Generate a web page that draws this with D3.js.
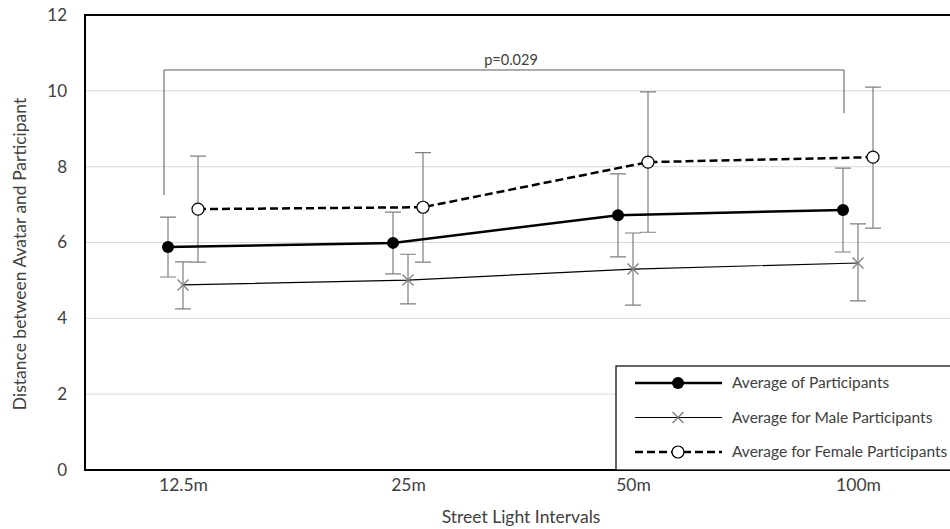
<!DOCTYPE html>
<meta charset="utf-8" />
<script src="https://d3js.org/d3.v7.min.js"></script>
<style>
  body { margin: 0; background: #fff; }
  text { font-family: Lato, "Open Sans", sans-serif; fill: #404040; }
</style>
<div id="chart"></div>
<script>
  // data
  var intervals = ["12.5m", "25m", "50m", "100m"];
  var yTicks = [0, 2, 4, 6, 8, 10, 12];

  var avgMean = [5.88, 5.99, 6.72, 6.86];
  var avgHigh = [6.67, 6.80, 7.81, 7.96];
  var avgLow = [5.09, 5.17, 5.62, 5.75];

  var maleMean = [4.88, 5.01, 5.30, 5.46];
  var maleHigh = [5.49, 5.69, 6.25, 6.49];
  var maleLow = [4.25, 4.38, 4.35, 4.46];

  var femaleMean = [6.88, 6.93, 8.12, 8.25];
  var femaleHigh = [8.28, 8.37, 9.97, 10.10];
  var femaleLow = [5.48, 5.48, 6.27, 6.38];

  var legendLabels = ["Average of Participants", "Average for Male Participants", "Average for Female Participants"];

  // significance bracket between 12.5m and 100m
  var bracketY = 10.55, bracketLeftEnd = 7.25, bracketRightEnd = 9.41, pLabel = "p=0.029";

  var W = 950, H = 529;
  var margin = { top: 15, right: -2, bottom: 59, left: 85 };
  var width = W - margin.left - margin.right,
      height = H - margin.top - margin.bottom;

  var svg = d3.select("#chart").append("svg")
    .attr("width", W).attr("height", H);
  var g = svg.append("g")
    .attr("transform", "translate(" + margin.left + "," + margin.top + ")");

  var x = d3.scalePoint().domain(intervals).range([98, 773]);
  var y = d3.scaleLinear().domain([0, 12]).range([height, 0]);

  // gridlines
  g.append("g").selectAll("line").data(yTicks.filter(function (d) { return d > 0 && d < 12; }))
    .enter().append("line")
    .attr("x1", 0).attr("x2", width)
    .attr("y1", function (d) { return y(d); }).attr("y2", function (d) { return y(d); })
    .attr("stroke", "#d9d9d9").attr("stroke-width", 1);

  // y axis labels
  var yAxis = g.append("g").call(d3.axisLeft(y).tickValues(yTicks).tickSize(0).tickPadding(18));
  yAxis.select(".domain").remove();
  yAxis.selectAll("text").style("font-size", "17px").attr("fill", "#404040");

  // x axis labels
  var xAxis = g.append("g").attr("transform", "translate(0," + height + ")")
    .call(d3.axisBottom(x).tickSize(0).tickPadding(9));
  xAxis.select(".domain").remove();
  xAxis.selectAll("text").style("font-size", "17.5px").attr("fill", "#404040");

  // frame
  g.append("rect").attr("x", 0).attr("y", 0).attr("width", width).attr("height", height)
    .attr("fill", "none").attr("stroke", "#000").attr("stroke-width", 2);

  // axis titles
  svg.append("text").attr("x", 521).attr("y", 523)
    .attr("text-anchor", "middle").style("font-size", "17.5px").text("Street Light Intervals");
  svg.append("text").attr("transform", "translate(26,254) rotate(-90)")
    .attr("text-anchor", "middle").style("font-size", "17.5px")
    .text("Distance between Avatar and Participant");

  // significance bracket
  var bx1 = x(intervals[0]) - 19, bx2 = x(intervals[3]) - 14;
  g.append("path")
    .attr("d", "M" + bx1 + "," + y(bracketLeftEnd) + "V" + y(bracketY) + "H" + bx2 + "V" + y(bracketRightEnd))
    .attr("fill", "none").attr("stroke", "#595959").attr("stroke-width", 1);
  g.append("text").attr("x", (bx1 + bx2) / 2 + 7).attr("y", y(bracketY) - 5)
    .attr("text-anchor", "middle").style("font-size", "14.5px").text(pLabel);

  var series = [
    { mean: avgMean, high: avgHigh, low: avgLow, dx: -15, width: 2.5, dash: null, marker: "filled" },
    { mean: maleMean, high: maleHigh, low: maleLow, dx: 0, width: 1.2, dash: null, marker: "cross" },
    { mean: femaleMean, high: femaleHigh, low: femaleLow, dx: 15, width: 2.5, dash: "8,4", marker: "open" }
  ];

  function drawMarker(sel, type, cx, cy) {
    if (type === "filled") {
      sel.append("circle").attr("cx", cx).attr("cy", cy).attr("r", 6).attr("fill", "#000");
    } else if (type === "open") {
      sel.append("circle").attr("cx", cx).attr("cy", cy).attr("r", 6)
        .attr("fill", "#fff").attr("stroke", "#000").attr("stroke-width", 1.2);
    } else {
      var s = 5.5;
      sel.append("path")
        .attr("d", "M" + (cx - s) + "," + (cy - s) + "L" + (cx + s) + "," + (cy + s) +
                   "M" + (cx - s) + "," + (cy + s) + "L" + (cx + s) + "," + (cy - s))
        .attr("stroke", "#7f7f7f").attr("stroke-width", 1.4);
    }
  }

  var eg = g.append("g"), lg = g.append("g"), mg = g.append("g");
  series.forEach(function (s) {
    var px = function (i) { return x(intervals[i]) + s.dx; };
    // error bars
    intervals.forEach(function (c, i) {
      var cx = px(i);
      eg.append("path")
        .attr("d", "M" + cx + "," + y(s.low[i]) + "V" + y(s.high[i]) +
                   "M" + (cx - 8) + "," + y(s.high[i]) + "H" + (cx + 8) +
                   "M" + (cx - 8) + "," + y(s.low[i]) + "H" + (cx + 8))
        .attr("fill", "none").attr("stroke", "#7f7f7f").attr("stroke-width", 1.2);
    });
    var line = d3.line().x(function (d, i) { return px(i); }).y(function (d) { return y(d); });
    lg.append("path").datum(s.mean).attr("d", line)
      .attr("fill", "none").attr("stroke", "#000").attr("stroke-width", s.width)
      .attr("stroke-dasharray", s.dash);
    s.mean.forEach(function (v, i) { drawMarker(mg, s.marker, px(i), y(v)); });
  });

  // legend
  var leg = g.append("g").attr("transform", "translate(531,351)");
  leg.append("rect").attr("x", 0).attr("y", 0).attr("width", 340).attr("height", height - 351)
    .attr("fill", "#fff").attr("stroke", "#000").attr("stroke-width", 1.2);
  legendLabels.forEach(function (lab, i) {
    var s = series[i], ly = 17 + i * 34.5;
    leg.append("line").attr("x1", 19).attr("x2", 106).attr("y1", ly).attr("y2", ly)
      .attr("stroke", "#000").attr("stroke-width", s.width).attr("stroke-dasharray", s.dash);
    drawMarker(leg, s.marker, 62, ly);
    leg.append("text").attr("x", 116).attr("y", ly + 5).style("font-size", "15.5px").attr("fill", "#404040").text(lab);
  });
</script>
